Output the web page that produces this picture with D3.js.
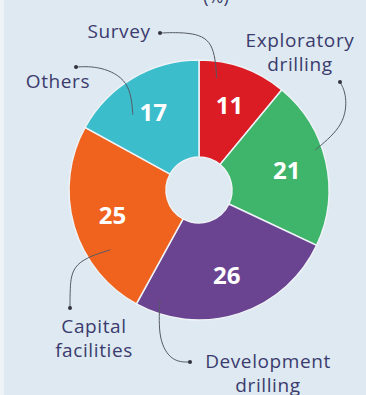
<!DOCTYPE html>
<html>
<head>
<meta charset="utf-8">
<title>Spend split</title>
<script src="https://d3js.org/d3.v7.min.js"></script>
<style>
  body { margin: 0; background: #eef3f7; }
  svg { display: block; }
</style>
</head>
<body>
<div id="chart"></div>
<script>
// slice data, clockwise from 12 o'clock
var categories = ["Survey", "Exploratory drilling", "Development drilling", "Capital facilities", "Others"];
var values = [11, 21, 26, 25, 17];
var colors = ["#dc1c24", "#3fb56b", "#6b4491", "#f0631f", "#3cbdcb"];

var W = 366, H = 395;
var cx = 199, cy = 190, rOuter = 130, rInner = 33;

var svg = d3.select("#chart").append("svg")
  .attr("width", W).attr("height", H);

// panel
svg.append("rect").attr("x", 4).attr("y", 0).attr("width", W - 4).attr("height", H)
  .attr("fill", "#dee9f1");

// cut-off title at top
svg.append("text").attr("x", 216).attr("y", 3)
  .attr("text-anchor", "middle")
  .attr("font-family", "Open Sans, sans-serif").attr("font-size", 18)
  .attr("fill", "#3d3d6b").text("(%)");

var pie = d3.pie().sort(null).value(function(d) { return d; });
var arcs = pie(values);
var arc = d3.arc().innerRadius(rInner).outerRadius(rOuter);
var labelArc = d3.arc().innerRadius(90).outerRadius(90);

var g = svg.append("g").attr("transform", "translate(" + cx + "," + cy + ")");

g.selectAll("path.slice")
  .data(arcs)
  .enter().append("path")
  .attr("class", "slice")
  .attr("d", arc)
  .attr("fill", function(d, i) { return colors[i]; })
  .attr("stroke", "#eef3f7")
  .attr("stroke-width", 1.5);

g.selectAll("text.val")
  .data(arcs)
  .enter().append("text")
  .attr("class", "val")
  .attr("transform", function(d) { return "translate(" + labelArc.centroid(d) + ")"; })
  .attr("dy", "0.36em")
  .attr("text-anchor", "middle")
  .attr("font-family", "Open Sans, sans-serif")
  .attr("font-weight", "bold")
  .attr("font-size", 24)
  .attr("fill", "#ffffff")
  .text(function(d) { return d.data; });

// leader lines: slice point (angle deg, radius) -> bend -> dot
function polar(a, r) {
  var t = a * Math.PI / 180;
  return [cx + r * Math.sin(t), cy - r * Math.cos(t)];
}
var leaders = [
  { from: polar(9, 113),    via: [[214, 40], [190, 32]], dot: [160, 33] },
  { from: polar(71, 123),   via: [[345, 125], [347, 95]], dot: [340, 82] },
  { from: polar(199.5, 117),via: [[158, 340], [172, 362]], dot: [190, 362] },
  { from: polar(236, 107),  via: [[72, 262], [70, 290]], dot: [70, 308] },
  { from: polar(318.6, 100),via: [[130, 80], [100, 66]], dot: [76, 67] }
];
var line = d3.line().curve(d3.curveBasis);

svg.selectAll("path.leader")
  .data(leaders)
  .enter().append("path")
  .attr("class", "leader")
  .attr("d", function(d) { return line([d.from, d.from].concat(d.via).concat([d.dot, d.dot])); })
  .attr("fill", "none")
  .attr("stroke", "#555a66")
  .attr("stroke-width", 1);

svg.selectAll("circle.dot")
  .data(leaders)
  .enter().append("circle")
  .attr("class", "dot")
  .attr("cx", function(d) { return d.dot[0]; })
  .attr("cy", function(d) { return d.dot[1]; })
  .attr("r", 2)
  .attr("fill", "#333340");

// category labels
var labelLines = [
  { lines: ["Survey"], x: 119, y: 38 },
  { lines: ["Exploratory", "drilling"], x: 300, y: 47 },
  { lines: ["Development", "drilling"], x: 268, y: 368 },
  { lines: ["Capital", "facilities"], x: 94, y: 333 },
  { lines: ["Others"], x: 58, y: 88 }
];

labelLines.forEach(function(l) {
  var t = svg.append("text")
    .attr("text-anchor", "middle")
    .attr("font-family", "Open Sans, sans-serif")
    .attr("font-size", 19)
    .attr("letter-spacing", 0.6)
    .attr("fill", "#3b3b6e");
  l.lines.forEach(function(s, j) {
    t.append("tspan").attr("x", l.x).attr("y", l.y + j * 24).text(s);
  });
});
</script>
</body>
</html>
